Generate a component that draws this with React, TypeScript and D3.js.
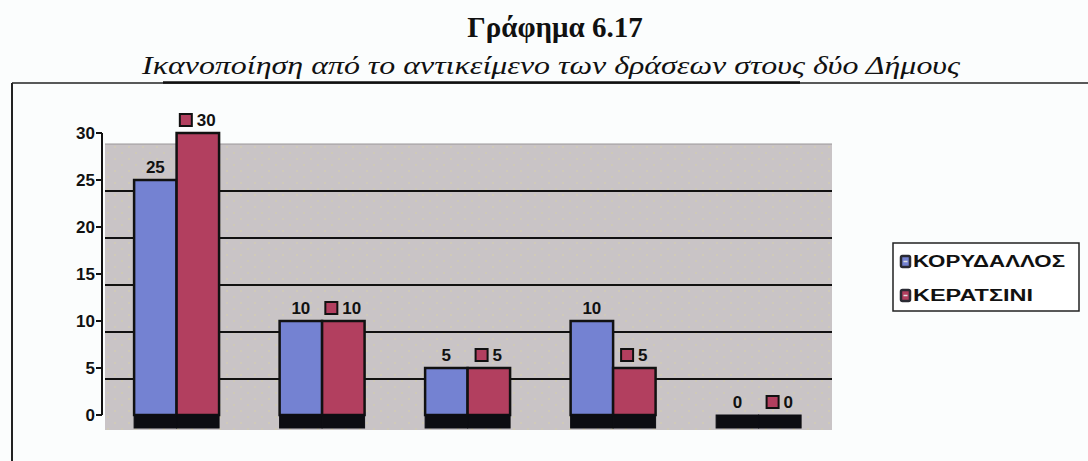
import React from "react";
import * as d3 from "d3";

const categories = ["Α", "Β", "Γ", "Δ", "Ε"];
const koryValues = [25, 10, 5, 10, 0];
const keratValues = [30, 10, 5, 5, 0];
const yTicks = [0, 5, 10, 15, 20, 25, 30];
const gridValues = [5, 10, 15, 20, 25];
const seriesNames = ["ΚΟΡΥΔΑΛΛΟΣ", "ΚΕΡΑΤΣΙΝΙ"];
const seriesColors = ["#7482d2", "#b23f5f"];
const title = "Γράφημα 6.17";
const subtitle = "Ικανοποίηση από το αντικείμενο των δράσεων στους δύο Δήμους";

const W = 1088;
const H = 461;
const WALL_DY = 11;
const FLOOR_H = 13;

export default function App() {
  const y = d3.scaleLinear().domain([0, 30]).range([415, 133]);
  const x = d3
    .scaleBand<string>()
    .domain(categories)
    .range([105, 830.2])
    .paddingInner(0.416)
    .paddingOuter(0.2);
  const xs = d3.scaleBand<number>().domain([0, 1]).range([0, x.bandwidth()]);
  const series = [koryValues, keratValues];
  const labelFont = "'Liberation Sans', Arial, sans-serif";

  const wallLeft = 105;
  const wallRight = 832;

  return (
    <svg
      width={W}
      height={H}
      style={{ position: "absolute", left: 0, top: 0, background: "#fbfdfd" }}
    >
      <defs>
        <pattern id="dots" width="14" height="12" patternUnits="userSpaceOnUse">
          <rect width="14" height="12" fill="#c9c4c6" />
          <circle cx="3" cy="3" r="0.8" fill="#d9d3a6" />
          <circle cx="10" cy="9" r="0.8" fill="#d6d0a4" />
        </pattern>
      </defs>

      {/* Title */}
      <text
        x={555}
        y={37}
        textAnchor="middle"
        fontFamily="'Liberation Serif', 'Times New Roman', serif"
        fontWeight="bold"
        fontSize={29}
        fill="#111"
      >
        {title}
      </text>
      <text
        x={551}
        y={74}
        textAnchor="middle"
        fontFamily="'Liberation Serif', 'Times New Roman', serif"
        fontStyle="italic"
        fontSize={26}
        fill="#111"
        textLength={818}
        lengthAdjust="spacingAndGlyphs"
      >
        {subtitle}
      </text>

      {/* outer frame */}
      <line x1={12} x2={W} y1={83} y2={83} stroke="#222" strokeWidth={1.5} />
      <line x1={163} x2={800} y1={82.5} y2={82.5} stroke="#111" strokeWidth={2.5} />
      <line x1={12} x2={12} y1={83} y2={H} stroke="#222" strokeWidth={2} />

      {/* wall */}
      <rect
        x={wallLeft}
        y={y(30) + WALL_DY}
        width={wallRight - wallLeft}
        height={y(0) + FLOOR_H + 2 - (y(30) + WALL_DY)}
        fill="url(#dots)"
      />
      <line
        x1={wallLeft}
        x2={wallRight}
        y1={y(30) + WALL_DY}
        y2={y(30) + WALL_DY}
        stroke="#9a9698"
        strokeWidth={1}
      />
      {gridValues.map((v) => (
        <line
          key={v}
          x1={wallLeft}
          x2={wallRight}
          y1={y(v) + WALL_DY}
          y2={y(v) + WALL_DY}
          stroke="#111"
          strokeWidth={2}
        />
      ))}

      {/* axis */}
      <line x1={102} x2={102} y1={y(30)} y2={y(0)} stroke="#111" strokeWidth={2} />
      {yTicks.map((t) => (
        <g key={t}>
          <line x1={96} x2={102} y1={y(t)} y2={y(t)} stroke="#111" strokeWidth={2} />
          <text
            x={95}
            y={y(t)}
            dy="0.36em"
            textAnchor="end"
            fontFamily={labelFont}
            fontWeight="bold"
            fontSize={17}
            fill="#111"
          >
            {t}
          </text>
        </g>
      ))}

      {/* bars */}
      {categories.map((c, i) => {
        const gx = x(c) as number;
        return (
          <g key={c}>
            {series.map((vals, s) => {
              const bx = gx + (xs(s) as number);
              const bw = xs.bandwidth();
              const v = vals[i];
              return (
                <g key={s}>
                  {v > 0 && (
                    <rect
                      x={bx}
                      y={y(v)}
                      width={bw}
                      height={y(0) - y(v)}
                      fill={seriesColors[s]}
                      stroke="#111"
                      strokeWidth={2.5}
                    />
                  )}
                  <rect
                    x={bx}
                    y={y(0)}
                    width={bw}
                    height={FLOOR_H}
                    fill="#0d0d12"
                    stroke="#0d0d12"
                    strokeWidth={1}
                  />
                </g>
              );
            })}
          </g>
        );
      })}

      {/* data labels */}
      {categories.map((c, i) => {
        const gx = x(c) as number;
        const bw = xs.bandwidth();
        const bc = gx + (xs(0) as number) + bw / 2;
        const rc = gx + (xs(1) as number) + bw / 2;
        const rv = keratValues[i];
        const rTxt = String(rv);
        const tw = rTxt.length * 9.5;
        const total = 13 + 4 + tw;
        const left = rc - total / 2;
        const by = y(koryValues[i]) - 7;
        const ry = y(rv) - 7;
        return (
          <g key={c} fontFamily={labelFont} fontWeight="bold" fontSize={17} fill="#111">
            <text x={bc} y={by} textAnchor="middle">
              {koryValues[i]}
            </text>
            <rect
              x={left}
              y={ry - 12}
              width={12}
              height={12}
              fill={seriesColors[1]}
              stroke="#111"
              strokeWidth={2}
            />
            <text x={left + 17} y={ry} textAnchor="start">
              {rTxt}
            </text>
          </g>
        );
      })}

      {/* legend */}
      <rect x={893} y={243} width={186} height={68} fill="#fff" stroke="#222" strokeWidth={1.5} />
      {seriesNames.map((n, s) => {
        const ly = 267 + s * 34;
        return (
          <g key={n}>
            <rect
              x={901}
              y={ly - 11}
              width={9}
              height={11}
              rx={1.5}
              fill={seriesColors[s]}
              stroke="#2a2a33"
              strokeWidth={2.5}
            />
            <line x1={903.5} x2={907.5} y1={ly - 5.5} y2={ly - 5.5} stroke="#ddd" strokeWidth={1.5} />
            <text
              x={913}
              y={ly}
              fontFamily={labelFont}
              fontWeight="bold"
              fontSize={16}
              fill="#111"
              textLength={s === 0 ? 152 : 120}
              lengthAdjust="spacingAndGlyphs"
            >
              {n}
            </text>
          </g>
        );
      })}
    </svg>
  );
}
